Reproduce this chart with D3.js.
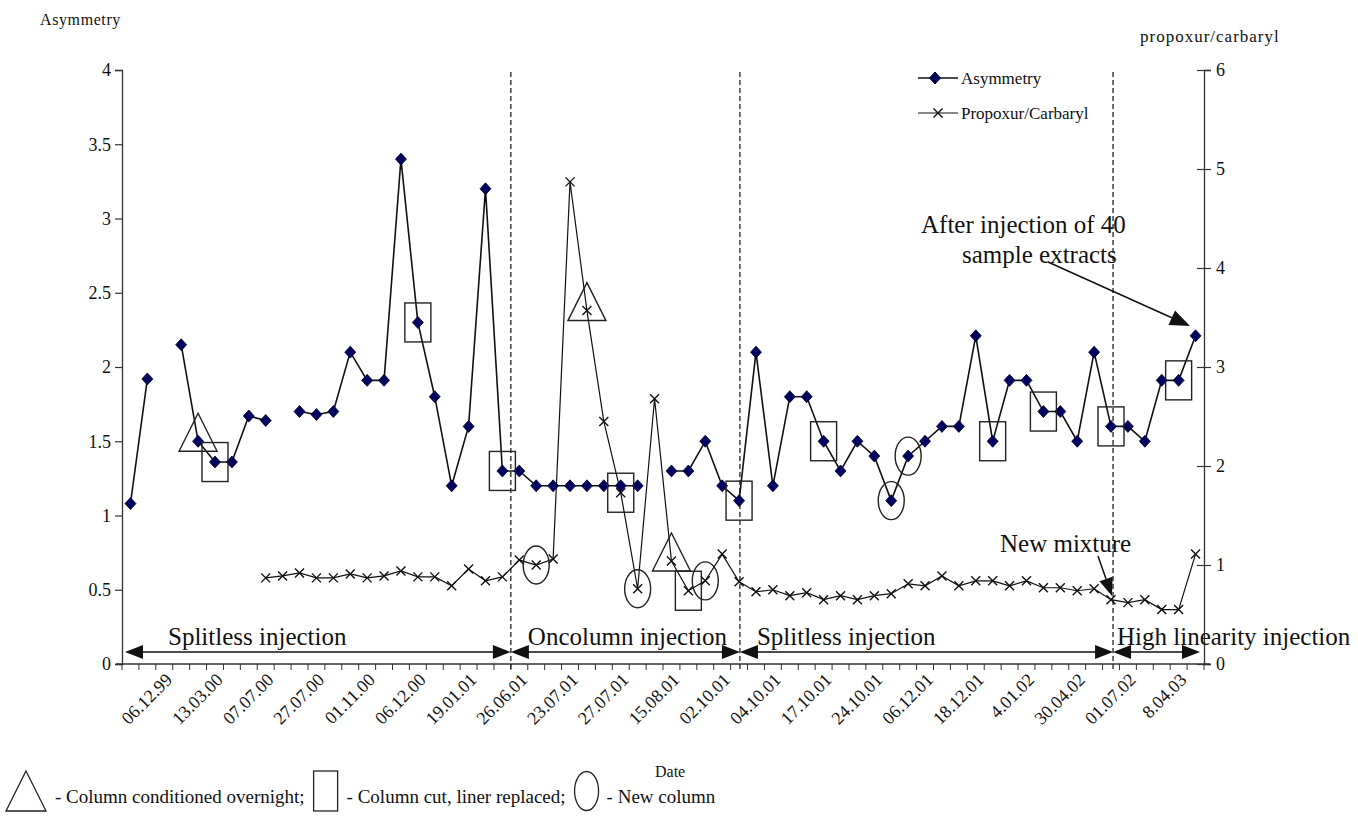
<!DOCTYPE html>
<html><head><meta charset="utf-8">
<script src="https://cdn.jsdelivr.net/npm/d3@7"></script>
<style>
body{margin:0;background:#fff}
svg{display:block}
text{font-family:"Liberation Serif","Times New Roman",serif;fill:#111}
</style>
</head><body>
<svg id="c" width="1358" height="818"></svg>
<script>
// ---------- data ----------
const asymmetry = [1.08,1.92,null,2.15,1.50,1.36,1.36,1.67,1.64,null,
  1.70,1.68,1.70,2.10,1.91,1.91,3.40,2.30,1.80,1.20,
  1.60,3.20,1.30,1.30,1.20,1.20,1.20,1.20,1.20,1.20,
  1.20,null,1.30,1.30,1.50,1.20,1.10,2.10,1.20,1.80,
  1.80,1.50,1.30,1.50,1.40,1.10,1.40,1.50,1.60,1.60,
  2.21,1.50,1.91,1.91,1.70,1.70,1.50,2.10,1.60,1.60,
  1.50,1.91,1.91,2.21];
const propoxur = [null,null,null,null,null,null,null,null,0.87,0.89,
  0.92,0.87,0.87,0.91,0.87,0.89,0.94,0.88,0.88,0.79,
  0.96,0.84,0.88,1.05,1.00,1.06,4.87,3.57,2.45,1.73,
  0.76,2.68,1.04,0.74,0.84,1.11,0.83,0.73,0.75,0.69,
  0.72,0.65,0.69,0.65,0.69,0.71,0.81,0.79,0.89,0.79,
  0.84,0.84,0.79,0.84,0.77,0.77,0.74,0.76,0.65,0.62,
  0.65,0.55,0.55,1.11];
const dateLabels = ["06.12.99","13.03.00","07.07.00","27.07.00","01.11.00","06.12.00",
  "19.01.01","26.06.01","23.07.01","27.07.01","15.08.01","02.10.01","04.10.01",
  "17.10.01","24.10.01","06.12.01","18.12.01","4.01.02","30.04.02","01.07.02","8.04.03"];
const labelStart = 2, labelStep = 3;
const leftTicks = [0,0.5,1,1.5,2,2.5,3,3.5,4];
const rightTicks = [0,1,2,3,4,5,6];
const separators = [23, 36.55, 58.62];           // in category units
const regionNames = ["Splitless injection","Oncolumn injection","Splitless injection","High linearity injection"];
const triangleMarks = [{s:"a",i:4},{s:"p",i:27},{s:"p",i:32}];
const boxMarks = [{s:"a",i:5},{s:"a",i:17},{s:"a",i:22},{s:"p",i:29},{s:"p",i:33},
  {s:"a",i:36},{s:"a",i:41},{s:"a",i:51},{s:"a",i:54},{s:"a",i:58},{s:"a",i:62}];
const circleMarks = [{s:"p",i:24},{s:"p",i:30},{s:"p",i:34},{s:"a",i:45},{s:"a",i:46}];

// ---------- scales ----------
const FONT = '"Liberation Serif","Times New Roman",serif';
const svg = d3.select("#c");
const N = asymmetry.length;
const x = d3.scaleBand().domain(d3.range(N)).range([122,1204]).padding(0);
const yL = d3.scaleLinear().domain([0,4]).range([664,70]);
const yR = d3.scaleLinear().domain([0,6]).range([664,70]);
const cx = i => x(i) + x.bandwidth()/2;
const catPos = u => x(0) + u * x.step();
const pt = m => [cx(m.i), m.s==="a" ? yL(asymmetry[m.i]) : yR(propoxur[m.i])];

// ---------- axes ----------
const gL = svg.append("g").attr("transform","translate(122,0)")
  .call(d3.axisLeft(yL).tickValues(leftTicks).tickSize(7).tickPadding(4).tickFormat(d3.format("")));
const gR = svg.append("g").attr("transform","translate(1204,0)")
  .call(d3.axisRight(yR).tickValues(rightTicks).tickSize(7).tickPadding(5).tickFormat(d3.format("")));
gR.selectAll(".tick line").attr("x1",-7);
[gL,gR].forEach(g=>{
  g.attr("font-family",FONT);
  g.select(".domain").attr("stroke","#333").attr("stroke-width",1.3);
  g.selectAll(".tick line").attr("stroke","#333").attr("stroke-width",1.2);
  g.selectAll("text").attr("fill","#111").style("font-size","18px").style("font-family",FONT);});
const gB = svg.append("g").attr("transform","translate(0,664)");
gB.append("line").attr("x1",116).attr("x2",1210).attr("stroke","#333").attr("stroke-width",1.3);
gB.selectAll("line.tk").data(d3.range(N+1)).join("line").attr("class","tk")
  .attr("x1",d=>catPos(d)).attr("x2",d=>catPos(d)).attr("y1",0).attr("y2",6)
  .attr("stroke","#333").attr("stroke-width",1);
const labelIdx = dateLabels.map((d,j)=>labelStart + j*labelStep);
svg.append("g").selectAll("text").data(dateLabels).join("text")
  .attr("text-anchor","end")
  .attr("transform",(d,j)=>`translate(${cx(labelIdx[j])+9},681) rotate(-45)`)
  .style("font-size","18px").style("font-family",FONT).text(d=>d);

// axis titles
svg.append("text").attr("x",40).attr("y",25).style("font-size","16px").style("letter-spacing","0.6px").text("Asymmetry");
svg.append("text").attr("x",1140).attr("y",42).style("font-size","17px").style("letter-spacing","1px").text("propoxur/carbaryl");
svg.append("text").attr("x",655).attr("y",777).style("font-size","16px").text("Date");

// ---------- separators ----------
svg.append("g").selectAll("line").data(separators).join("line")
  .attr("x1",d=>catPos(d)).attr("x2",d=>catPos(d)).attr("y1",72).attr("y2",672)
  .attr("stroke","#222").attr("stroke-width",1.3).attr("stroke-dasharray","5,3");

// ---------- region arrows ----------
const bounds = [x(0)+3, ...separators.map(catPos), x(N-1)+x.bandwidth()-4];
const arrowY = 652;
const regionOffsets = [43,17,17,4];
const gA = svg.append("g");
regionNames.forEach((name,r)=>{
  const a = bounds[r], b = bounds[r+1];
  gA.append("line").attr("x1",a+10).attr("x2",b-10).attr("y1",arrowY).attr("y2",arrowY).attr("stroke","#111").attr("stroke-width",1.3);
  gA.append("path").attr("d",`M${a},${arrowY}L${a+18},${arrowY-7}L${a+18},${arrowY+7}Z`).attr("fill","#111");
  gA.append("path").attr("d",`M${b},${arrowY}L${b-18},${arrowY-7}L${b-18},${arrowY+7}Z`).attr("fill","#111");
  gA.append("text").attr("x",a+regionOffsets[r]).attr("y",645).style("font-size","25px").text(name);
});

// ---------- series ----------
const lineA = d3.line().defined(d=>d!=null).x((d,i)=>cx(i)).y(d=>yL(d));
const lineP = d3.line().defined(d=>d!=null).x((d,i)=>cx(i)).y(d=>yR(d));
svg.append("path").datum(propoxur).attr("d",lineP).attr("fill","none").attr("stroke","#111").attr("stroke-width",1.2);
svg.append("path").datum(asymmetry).attr("d",lineA).attr("fill","none").attr("stroke","#111").attr("stroke-width",1.6);

const diamond = "M0,-6L5.5,0L0,6L-5.5,0Z";
const cross = "M-4.5,-4.5L4.5,4.5M-4.5,4.5L4.5,-4.5";
svg.append("g").selectAll("path").data(propoxur.map((v,i)=>({v,i})).filter(d=>d.v!=null)).join("path")
  .attr("transform",d=>`translate(${cx(d.i)},${yR(d.v)})`).attr("d",cross)
  .attr("stroke","#111").attr("stroke-width",1.4).attr("fill","none");
svg.append("g").selectAll("path").data(asymmetry.map((v,i)=>({v,i})).filter(d=>d.v!=null)).join("path")
  .attr("transform",d=>`translate(${cx(d.i)},${yL(d.v)})`).attr("d",diamond)
  .attr("fill","#00005e").attr("stroke","#000030").attr("stroke-width",0.8);

// ---------- event markers ----------
const gM = svg.append("g").attr("fill","none").attr("stroke","#222").attr("stroke-width",1.4);
triangleMarks.forEach(m=>{const [px,py]=pt(m);
  gM.append("path").attr("d",`M${px},${py-28}L${px+19},${py+10}L${px-19},${py+10}Z`);});
boxMarks.forEach(m=>{const [px,py]=pt(m);
  gM.append("rect").attr("x",px-13).attr("y",py-19.5).attr("width",26).attr("height",39);});
circleMarks.forEach(m=>{const [px,py]=pt(m);
  gM.append("ellipse").attr("cx",px).attr("cy",py).attr("rx",13).attr("ry",19);});

// ---------- legend (top right) ----------
const gLeg = svg.append("g");
[[78,"a","Asymmetry"],[113,"p","Propoxur/Carbaryl"]].forEach(([ly,s,t])=>{
  gLeg.append("line").attr("x1",918).attr("x2",958).attr("y1",ly).attr("y2",ly).attr("stroke","#111").attr("stroke-width",s==="a"?1.6:1.2);
  if(s==="a") gLeg.append("path").attr("transform",`translate(935,${ly})`).attr("d",diamond).attr("fill","#00005e").attr("stroke","#000030");
  else gLeg.append("path").attr("transform",`translate(938,${ly})`).attr("d",cross).attr("stroke","#111").attr("stroke-width",1.4);
  gLeg.append("text").attr("x",961).attr("y",ly+6).style("font-size","17px").text(t);
});

// ---------- annotations ----------
svg.append("text").attr("x",921).attr("y",233).style("font-size","25px").text("After injection of 40");
svg.append("text").attr("x",962).attr("y",263).style("font-size","25px").text("sample extracts");
function arrow(x1,y1,x2,y2,len,hw){
  const ang=Math.atan2(y2-y1,x2-x1), bx=x2-len*Math.cos(ang), by=y2-len*Math.sin(ang);
  svg.append("line").attr("x1",x1).attr("y1",y1).attr("x2",bx).attr("y2",by).attr("stroke","#111").attr("stroke-width",1.5);
  const nx=-Math.sin(ang)*hw, ny=Math.cos(ang)*hw;
  svg.append("path").attr("d",`M${x2},${y2}L${bx+nx},${by+ny}L${bx-nx},${by-ny}Z`).attr("fill","#111");
}
arrow(1048,262,1190,326,20,8);
svg.append("text").attr("x",1000).attr("y",552).style("font-size","25px").text("New mixture");
arrow(1098,556,1112,596,18,7);

// ---------- bottom legend ----------
const gBL = svg.append("g");
let lx = 6; const by = 803, fs = "19px";
gBL.append("path").attr("d",`M${lx+20},771L${lx+40},811L${lx},811Z`).attr("fill","none").attr("stroke","#222").attr("stroke-width",1.3);
let t1 = gBL.append("text").attr("x",lx+49).attr("y",by).style("font-size",fs).text("- Column conditioned overnight;");
lx = lx+49+t1.node().getComputedTextLength()+9;
gBL.append("rect").attr("x",lx).attr("y",771).attr("width",24).attr("height",40).attr("fill","none").attr("stroke","#222").attr("stroke-width",1.3);
let t2 = gBL.append("text").attr("x",lx+33).attr("y",by).style("font-size",fs).text("- Column cut, liner replaced;");
lx = lx+33+t2.node().getComputedTextLength()+9;
gBL.append("ellipse").attr("cx",lx+12).attr("cy",791).attr("rx",12).attr("ry",19.5).attr("fill","none").attr("stroke","#222").attr("stroke-width",1.3);
gBL.append("text").attr("x",lx+32).attr("y",by).style("font-size",fs).text("- New column");
</script>
</body></html>
